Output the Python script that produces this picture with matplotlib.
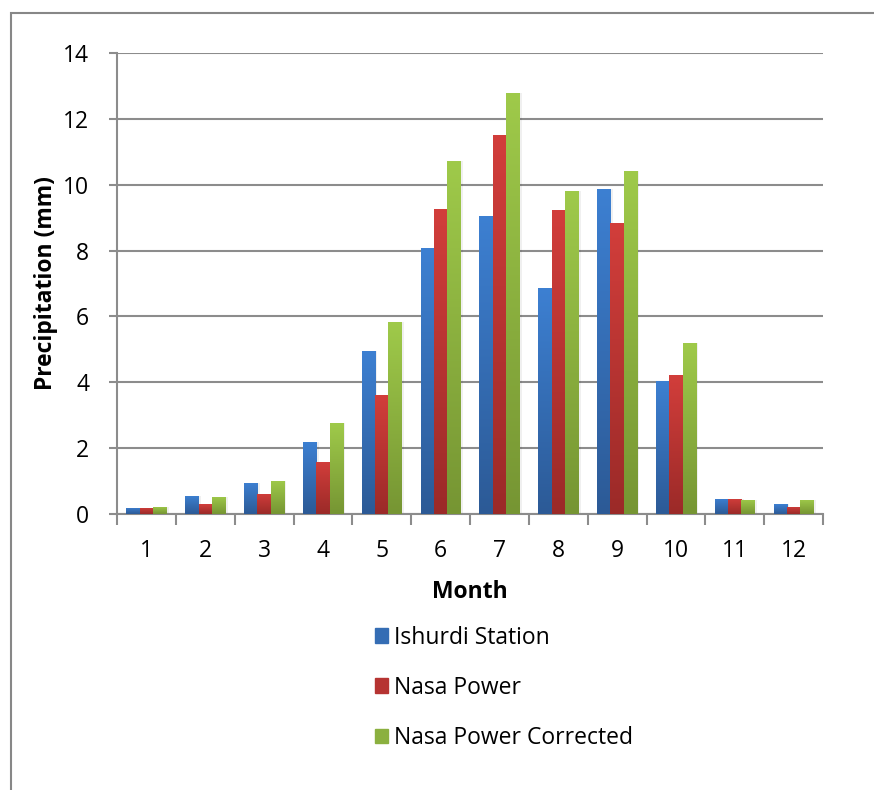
import matplotlib.pyplot as plt
import numpy as np
from matplotlib.colors import LinearSegmentedColormap, to_rgb
from matplotlib.patches import Rectangle

months = ['1', '2', '3', '4', '5', '6', '7', '8', '9', '10', '11', '12']
ishurdi = [0.19, 0.56, 0.95, 2.20, 4.94, 8.07, 9.05, 6.86, 9.87, 4.03, 0.47, 0.29]
nasa = [0.19, 0.29, 0.62, 1.59, 3.60, 9.26, 11.51, 9.23, 8.84, 4.21, 0.47, 0.22]
nasa_corr = [0.22, 0.53, 1.01, 2.75, 5.82, 10.72, 12.79, 9.81, 10.42, 5.19, 0.44, 0.44]

series = [
    ('Ishurdi Station', ishurdi, '#3d80d2', '#2c5a96'),
    ('Nasa Power', nasa, '#d23e3b', '#9b2a28'),
    ('Nasa Power Corrected', nasa_corr, '#9fca4a', '#769533'),
]

plt.rcParams['font.family'] = ['Open Sans', 'DejaVu Sans']
fs = 16.5

fig = plt.figure(figsize=(8.74, 7.9), dpi=100)
ax = fig.add_axes([117 / 874, 1 - 514 / 790, 706 / 874, 461 / 790])

x = np.arange(len(months))
w = 0.227
grad = np.linspace(1, 0, 256).reshape(-1, 1)

handles = []
for k, (name, vals, top, bot) in enumerate(series):
    cmap = LinearSegmentedColormap.from_list(name, [bot, top])
    bars = ax.bar(x + (k - 1) * w, vals, w, color=top, zorder=3, label=name)
    for b in bars:
        b.set_facecolor('none')
        x0, y0 = b.get_x(), b.get_y()
        im = ax.imshow(grad, cmap=cmap, aspect='auto', zorder=3,
                       extent=[x0, x0 + b.get_width(), y0, y0 + b.get_height()])
        im.set_clip_path(b)
        # soft shadow on the right
        ax.add_patch(Rectangle((x0 + b.get_width(), y0), 0.04, b.get_height(),
                               color='#000000', alpha=0.06, lw=0, zorder=2))
    mid = (np.array(to_rgb(top)) + np.array(to_rgb(bot))) / 2
    handles.append(Rectangle((0, 0), 1, 1, color=mid))

ax.set_xlim(-0.5, 11.5)
ax.set_ylim(0, 14)
ax.set_yticks(np.arange(0, 15, 2))
ax.yaxis.grid(True, color='#8c8c8c', linewidth=1.5, zorder=0)
ax.set_axisbelow(True)

ax.set_xticks(np.arange(-0.5, 12, 1))
ax.set_xticklabels([])
ax.set_xticks(x, minor=True)
ax.set_xticklabels(months, minor=True)
ax.tick_params(axis='x', which='major', length=8, width=1.5, color='#8c8c8c')
ax.tick_params(axis='x', which='minor', length=0, pad=18, labelsize=fs)
ax.tick_params(axis='y', length=6, width=1.5, color='#8c8c8c', pad=14, labelsize=fs)

for s in ['top', 'right']:
    ax.spines[s].set_visible(False)
ax.spines['left'].set_color('#8c8c8c')
ax.spines['left'].set_linewidth(1.5)
ax.spines['bottom'].set_color('#8c8c8c')
ax.spines['bottom'].set_linewidth(1.5)

ax.set_xlabel('Month', fontsize=fs, fontweight='bold', labelpad=12)
ax.set_ylabel('Precipitation (mm)', fontsize=fs, fontweight='bold', labelpad=4)

fig.legend(handles, [s[0] for s in series], loc='upper left',
           bbox_to_anchor=(354 / 874, 1 - 605 / 790), frameon=False,
           fontsize=fs, handlelength=0.6, handleheight=0.6, handletextpad=0.25,
           labelspacing=1.14)

fig.patches.append(Rectangle((11 / 874, -0.05), 1.0, 1 - 13 / 790 + 0.05,
                             transform=fig.transFigure, fill=False,
                             edgecolor='#878787', linewidth=1.5))

fig.savefig('out.png', dpi=100)
